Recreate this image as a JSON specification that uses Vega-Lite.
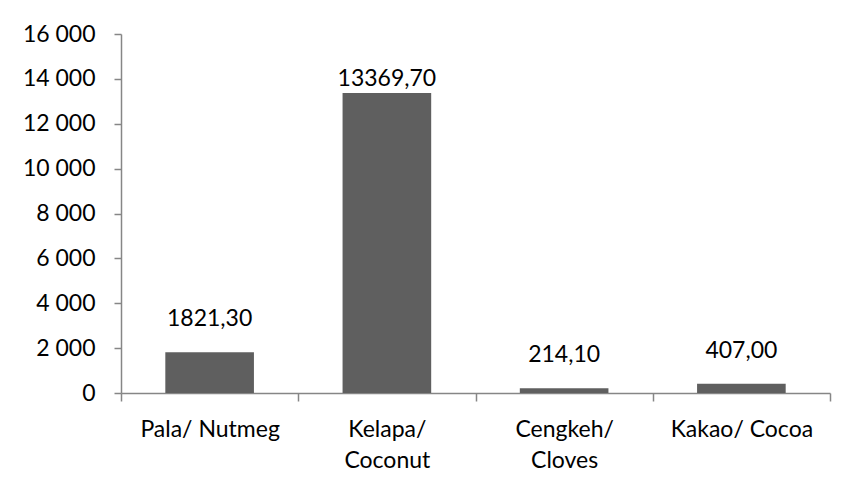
{
  "$schema": "https://vega.github.io/schema/vega-lite/v6.json",
  "autosize": "none",
  "width": 709,
  "height": 359,
  "padding": {"left": 121, "top": 34, "right": 25, "bottom": 95},
  "background": "white",
  "config": {
    "view": {"stroke": null},
    "font": "Lato",
    "locale": {"number": {"decimal": ",", "thousands": " ", "grouping": [3], "currency": ["", ""]}},
    "axis": {"grid": false, "domainColor": "#868686", "tickColor": "#868686", "labelColor": "#000000", "labelFont": "Lato", "labelFontSize": 23, "title": null}
  },
  "data": {
    "values": [
      {"komoditas": "Pala/ Nutmeg", "produksi": 1821.3},
      {"komoditas": "Kelapa/ Coconut", "produksi": 13369.7},
      {"komoditas": "Cengkeh/ Cloves", "produksi": 214.1},
      {"komoditas": "Kakao/ Cocoa", "produksi": 407.0}
    ]
  },
  "encoding": {
    "x": {
      "field": "komoditas",
      "type": "nominal",
      "sort": null,
      "scale": {"paddingInner": 0, "paddingOuter": 0},
      "axis": {
        "labelAngle": 0,
        "tickBand": "extent",
        "ticks": true,
        "tickSize": 8,
        "tickWidth": 1.5,
        "domainWidth": 1.5,
        "labelPadding": 17,
        "labelLineHeight": 31,
        "labelBaseline": "top",
        "labelExpr": "(datum.label == 'Kelapa/ Coconut' || datum.label == 'Cengkeh/ Cloves') ? split(datum.label, ' ') : datum.label"
      }
    },
    "y": {
      "field": "produksi",
      "type": "quantitative",
      "scale": {"domain": [0, 16000], "nice": false},
      "axis": {
        "values": [0, 2000, 4000, 6000, 8000, 10000, 12000, 14000, 16000],
        "format": ",.0f",
        "tickSize": 7,
        "tickWidth": 1.5,
        "domainWidth": 1.5,
        "labelPadding": 19
      }
    }
  },
  "layer": [
    {"mark": {"type": "bar", "color": "#5f5f5f", "width": {"band": 0.5}}},
    {
      "transform": [{"filter": "datum.produksi > 10000"}],
      "mark": {"type": "text", "baseline": "alphabetic", "dy": -7, "fontSize": 23, "color": "#000000", "font": "Lato"},
      "encoding": {"text": {"field": "produksi", "type": "quantitative", "format": ".2f"}}
    },
    {
      "transform": [{"filter": "datum.produksi <= 10000"}],
      "mark": {"type": "text", "baseline": "alphabetic", "dy": -26, "fontSize": 23, "color": "#000000", "font": "Lato"},
      "encoding": {"text": {"field": "produksi", "type": "quantitative", "format": ".2f"}}
    }
  ]
}
